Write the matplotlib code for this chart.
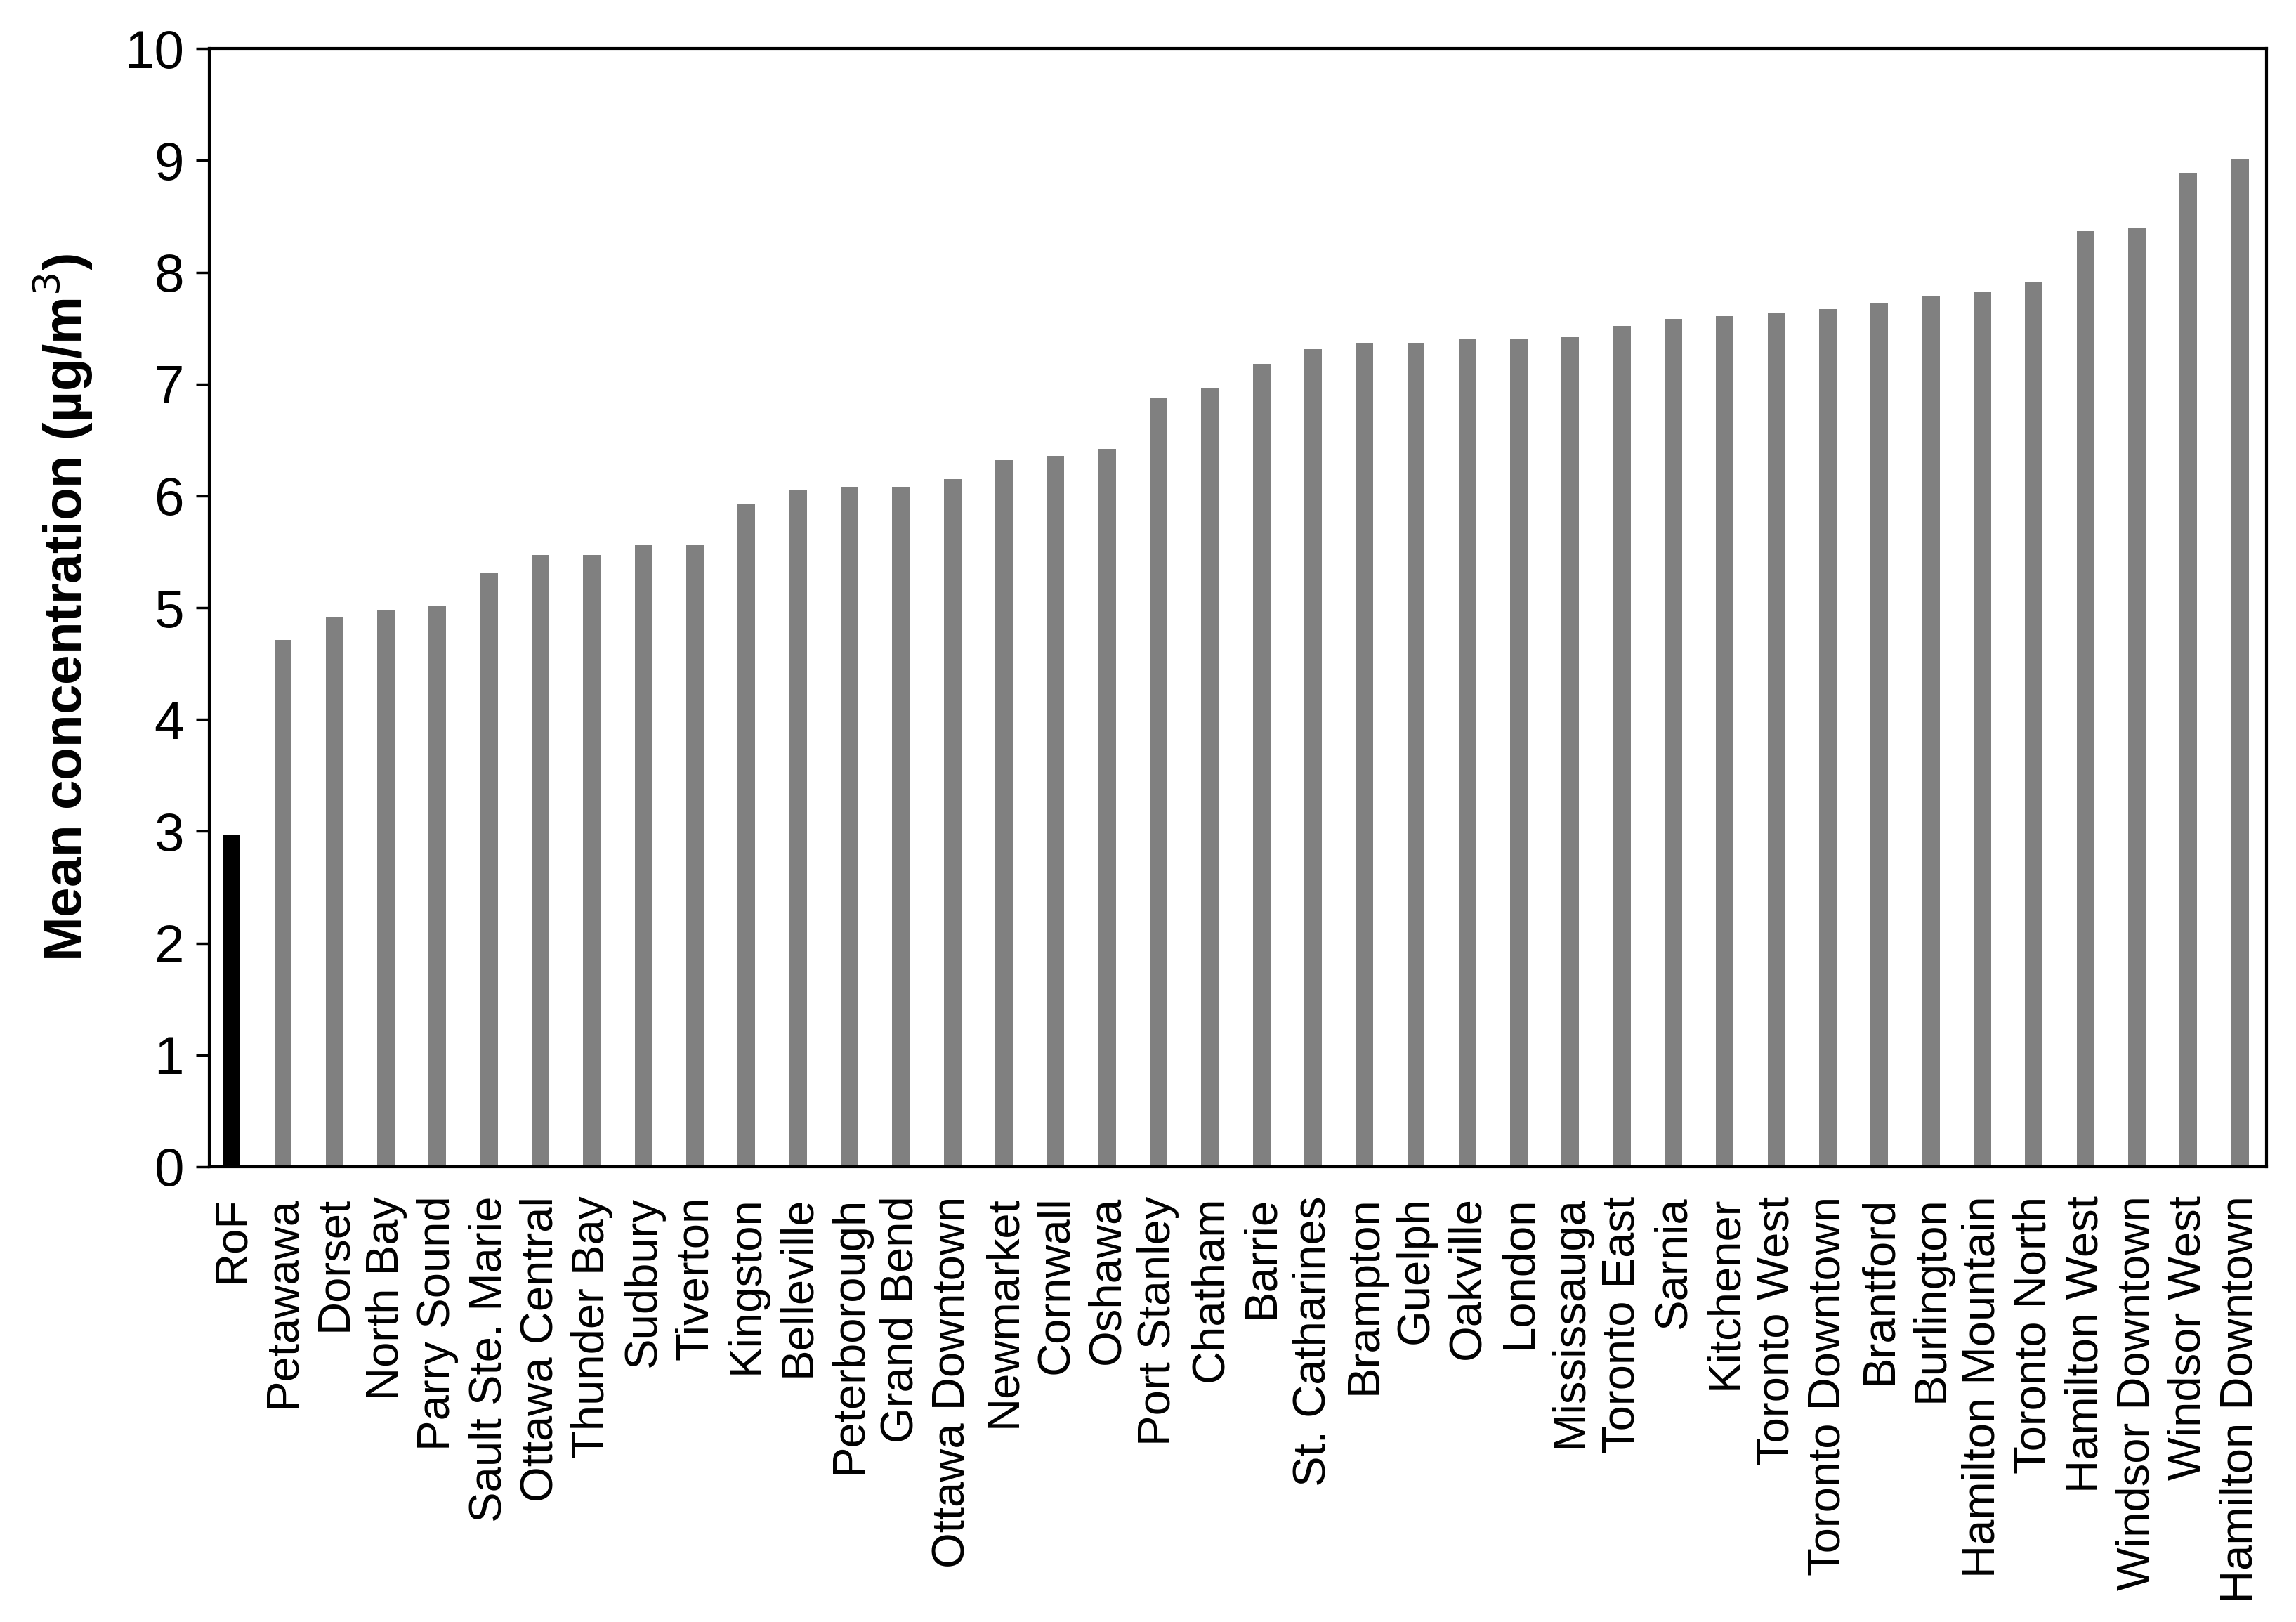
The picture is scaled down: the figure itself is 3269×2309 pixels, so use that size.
import matplotlib
matplotlib.use("Agg")
import matplotlib.pyplot as plt

plt.rcParams['font.family'] = ['Liberation Sans', 'DejaVu Sans']

sites = ["RoF", "Petawawa", "Dorset", "North Bay", "Parry Sound", "Sault Ste. Marie",
         "Ottawa Central", "Thunder Bay", "Sudbury", "Tiverton", "Kingston", "Belleville",
         "Peterborough", "Grand Bend", "Ottawa Downtown", "Newmarket", "Cornwall", "Oshawa",
         "Port Stanley", "Chatham", "Barrie", "St. Catharines", "Brampton", "Guelph",
         "Oakville", "London", "Mississauga", "Toronto East", "Sarnia", "Kitchener",
         "Toronto West", "Toronto Downtown", "Brantford", "Burlington", "Hamilton Mountain",
         "Toronto North", "Hamilton West", "Windsor Downtown", "Windsor West", "Hamilton Downtown"]
values = [2.97, 4.71, 4.92, 4.98, 5.02, 5.31, 5.47, 5.47, 5.56, 5.56, 5.93, 6.05,
          6.08, 6.08, 6.15, 6.32, 6.36, 6.42, 6.88, 6.97, 7.18, 7.31, 7.37, 7.37,
          7.40, 7.40, 7.42, 7.52, 7.58, 7.61, 7.64, 7.67, 7.73, 7.79, 7.82, 7.91,
          8.37, 8.40, 8.89, 9.01]
yticks = list(range(0, 11))

fig = plt.figure(figsize=(32.69, 23.09), dpi=100)
ax = fig.add_axes([0.0912, 0.2807, 0.8958, 0.6893])
colors = ['#000000'] + ['#808080'] * (len(sites) - 1)
x = list(range(len(sites)))
ax.bar(x, values, width=0.34, color=colors)
ax.set_xlim(-0.43, len(sites) - 0.49)
ax.set_ylim(0, 10)
ax.set_yticks(yticks)
ax.set_xticks(x)
ax.set_xticklabels(sites, rotation=90, fontsize=47)
ax.tick_params(axis='x', length=0, pad=30)
ax.tick_params(axis='y', labelsize=55, length=14, width=2.5, direction='out', pad=12)
for s in ax.spines.values():
    s.set_linewidth(3)
    s.set_color('#000000')
ax.set_ylabel("Mean concentration (µg/m$^{3}$)", fontsize=55, fontweight='bold', labelpad=30)
fig.savefig("out.png", dpi=100, facecolor='white')
